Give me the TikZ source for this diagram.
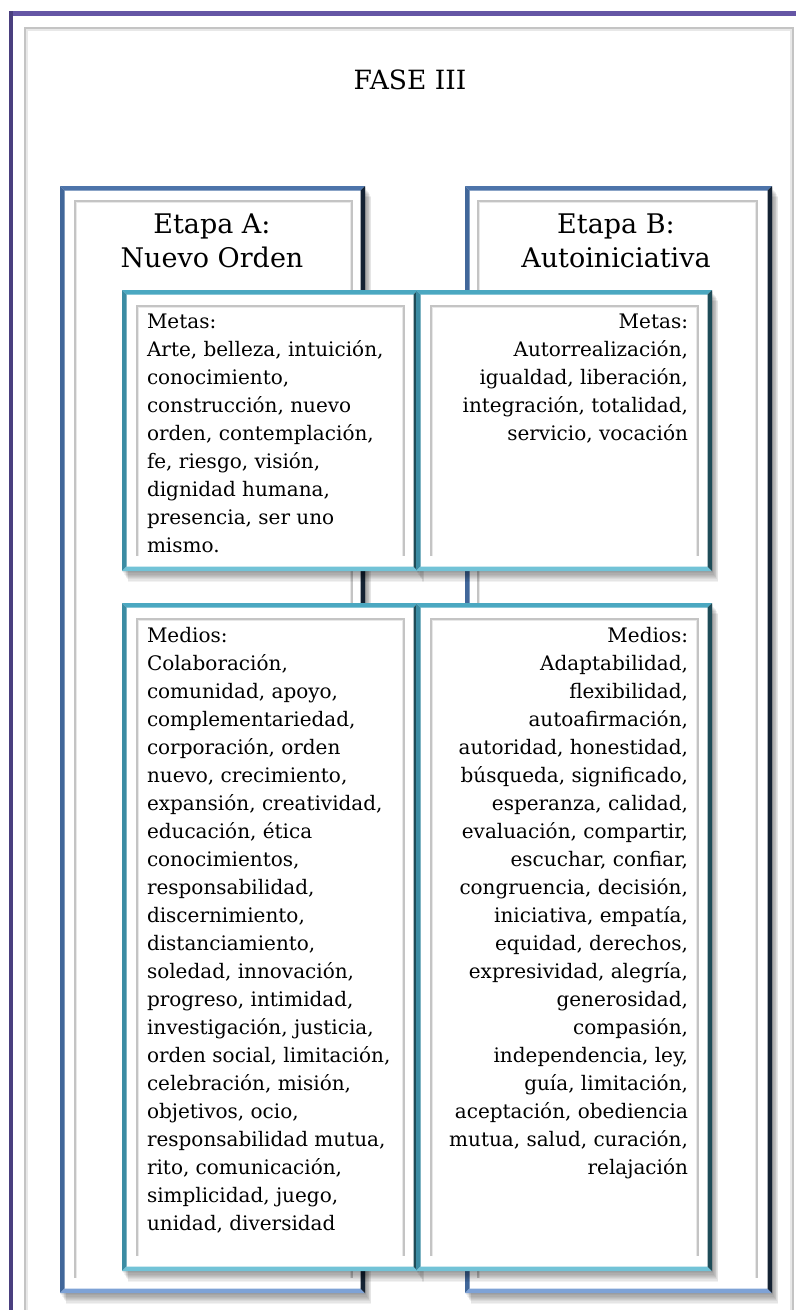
\documentclass[tikz,border=0pt]{standalone}
\usepackage{fontspec}
\setmainfont{DejaVu Serif}
\usetikzlibrary{calc}
\definecolor{purT}{HTML}{6556A5}
\definecolor{purL}{HTML}{4A3F7F}
\definecolor{bT}{HTML}{4D74AA}
\definecolor{bL}{HTML}{41679A}
\definecolor{bR}{HTML}{142233}
\definecolor{bB}{HTML}{7EA2D6}
\definecolor{tT}{HTML}{4BA8C1}
\definecolor{tL}{HTML}{3B8CA3}
\definecolor{tR}{HTML}{1E4C58}
\definecolor{tB}{HTML}{72C3D7}
\definecolor{gl}{HTML}{C4C4C4}
\definecolor{gll}{HTML}{E8E8E8}
% soft shadow
\newcommand\softshade[4]{%
  \foreach \d in {1,...,9}{\fill[black,opacity=0.05] (#1+\d*0.7,#2+\d*1.2) rectangle (#3+\d*0.7,#4+\d*1.2);}}
% bevelled frame: x1 y1 x2 y2 width colour-prefix
\newcommand\bevelframe[6]{%
  \fill[#6T] (#1,#2) -- (#3,#2) -- (#3-#5,#2+#5) -- (#1+#5,#2+#5) -- cycle;
  \fill[#6L] (#1,#2) -- (#1+#5,#2+#5) -- (#1+#5,#4-#5) -- (#1,#4) -- cycle;
  \fill[#6B] (#1,#4) -- (#1+#5,#4-#5) -- (#3-#5,#4-#5) -- (#3,#4) -- cycle;
  \fill[#6R] (#3,#2) -- (#3,#4) -- (#3-#5,#4-#5) -- (#3-#5,#2+#5) -- cycle;}
% inner grey frame open at the bottom
\newcommand\innerframe[4]{%
  \draw[gll, line width=1.2] (#1+1.6,#4) -- (#1+1.6,#2+1.6) -- (#3-1.6,#2+1.6) -- (#3-1.6,#4);
  \draw[gl, line width=1.4] (#1,#4) -- (#1,#2) -- (#3,#2) -- (#3,#4);}
% panel: name x1 y1 x2 y2 colour-prefix
\newcommand\panel[6]{%
  \softshade{#2}{#3}{#4}{#5}
  \node[panelbg, minimum width=#4-#2, minimum height=#5-#3] (#1) at ({(#2+#4)/2},{(#3+#5)/2}) {};
  \bevelframe{#2}{#3}{#4}{#5}{4.5}{#6}}
\tikzset{
  panelbg/.style={fill=white, draw=none, inner sep=0, outer sep=0},
  body/.style={font=\fontsize{20}{28}\selectfont, inner sep=0, outer sep=0},
  ttl/.style={font=\fontsize{27}{34}\selectfont, inner sep=0, anchor=base},
}
\begin{document}
\begin{tikzpicture}[x=1pt,y=-1pt]
\useasboundingbox (0,0) rectangle (796,1310);
\fill[white] (0,0) rectangle (796,1310);
% outer frame
\fill[purT] (9,11) rectangle (796,15.5);
\fill[purL] (9,11) rectangle (13,1310);
\draw[gl, line width=1.5] (25,1310) -- (25,28) -- (793,28) -- (793,1310);
\draw[gll, line width=1.2] (27,1310) -- (27,30) -- (791,30) -- (791,1310);
\node[font=\fontsize{26.5}{34}\selectfont, inner sep=0, anchor=base] (fase) at (410,89) {FASE III};
% Etapa A
\panel{etA}{60}{186}{365}{1293}{b}
\innerframe{75}{201}{352}{1278}
\node[ttl] (etAt1) at (212,233) {Etapa A:};
\node[ttl] (etAt2) at (212,267) {Nuevo Orden};
% Etapa B
\panel{etB}{465}{186}{772}{1293}{b}
\innerframe{478}{201}{757}{1278}
\node[ttl] (etBt1) at (616,233) {Etapa B:};
\node[ttl] (etBt2) at (616,267) {Autoiniciativa};
% Metas
\panel{meA}{122}{290}{418}{571}{t}
\innerframe{137}{306}{404}{556}
\panel{meB}{416}{290}{712}{571}{t}
\innerframe{431}{306}{698}{556}
% Medios
\panel{mdA}{122}{603}{418}{1271}{t}
\innerframe{137}{619}{404}{1256}
\panel{mdB}{416}{603}{712}{1271}{t}
\innerframe{431}{619}{698}{1256}
% texts
\node[body, align=left, anchor=north west] (meAtx) at (147,308.4) {\strut Metas:\\Arte, belleza, intuición,\\conocimiento,\\construcción, nuevo\\orden, contemplación,\\fe, riesgo, visión,\\dignidad humana,\\presencia, ser uno\\mismo.};
\node[body, align=right, anchor=north east] (meBtx) at (688,308.4) {\strut Metas:\\Autorrealización,\\igualdad, liberación,\\integración, totalidad,\\servicio, vocación};
\node[body, align=left, anchor=north west] (mdAtx) at (147,622.4) {\strut Medios:\\Colaboración,\\comunidad, apoyo,\\complementariedad,\\corporación, orden\\nuevo, crecimiento,\\expansión, creatividad,\\educación, ética\\conocimientos,\\responsabilidad,\\discernimiento,\\distanciamiento,\\soledad, innovación,\\progreso, intimidad,\\investigación, justicia,\\orden social, limitación,\\celebración, misión,\\objetivos, ocio,\\responsabilidad mutua,\\rito, comunicación,\\simplicidad, juego,\\unidad, diversidad};
\node[body, align=right, anchor=north east] (mdBtx) at (688,622.4) {\strut Medios:\\Adaptabilidad,\\flexibilidad,\\autoafirmación,\\autoridad, honestidad,\\búsqueda, significado,\\esperanza, calidad,\\evaluación, compartir,\\escuchar, confiar,\\congruencia, decisión,\\iniciativa, empatía,\\equidad, derechos,\\expresividad, alegría,\\generosidad,\\compasión,\\independencia, ley,\\guía, limitación,\\aceptación, obediencia\\mutua, salud, curación,\\relajación};
\end{tikzpicture}
\end{document}
